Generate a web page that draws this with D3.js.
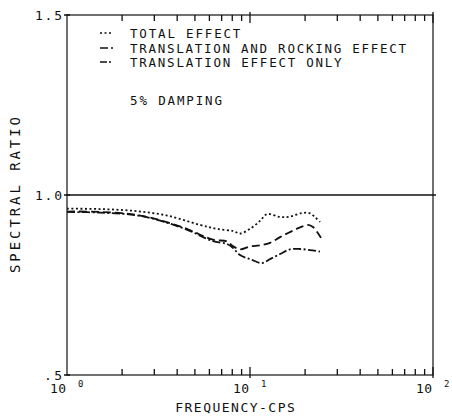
<!DOCTYPE html>
<html>
<head>
<meta charset="utf-8">
<script src="https://cdn.jsdelivr.net/npm/d3@7"></script>
<style>
  html, body { margin: 0; padding: 0; background: #fff; }
  svg { display: block; }
  text { font-family: "DejaVu Sans Mono", "Liberation Mono", monospace; fill: #111; }
</style>
</head>
<body>
<svg id="chart" width="452" height="419"></svg>
<script>
// Spectral ratio vs. frequency (log axis), three response cases at 5% damping.
const totalFreq   = [1.00, 1.51, 2.30, 3.52, 5.33, 6.60, 8.07, 8.82, 10.0, 11.34, 12.39, 14.59, 16.54, 19.24, 21.28, 22.95, 24.13];
const totalRatio  = [0.962, 0.961, 0.956, 0.943, 0.917, 0.906, 0.900, 0.893, 0.906, 0.928, 0.947, 0.939, 0.940, 0.950, 0.949, 0.936, 0.925];

const rockFreq    = [1.00, 1.51, 2.51, 4.30, 6.28, 7.49, 8.07, 8.82, 10.0, 11.34, 12.86, 14.59, 16.54, 18.76, 20.75, 22.10, 23.53, 24.43];
const rockRatio   = [0.954, 0.953, 0.943, 0.910, 0.876, 0.871, 0.858, 0.849, 0.857, 0.860, 0.867, 0.883, 0.897, 0.910, 0.917, 0.911, 0.894, 0.881];

const transFreq   = [1.00, 1.51, 2.51, 4.30, 6.28, 7.49, 8.07, 8.82, 10.0, 11.63, 12.86, 14.59, 16.54, 18.76, 21.28, 24.13];
const transRatio  = [0.953, 0.951, 0.942, 0.908, 0.872, 0.864, 0.853, 0.833, 0.822, 0.811, 0.822, 0.836, 0.849, 0.850, 0.847, 0.843];

const legendLabels = ["TOTAL EFFECT", "TRANSLATION AND ROCKING EFFECT", "TRANSLATION EFFECT ONLY"];
const noteLabel = "5% DAMPING";
const yTickValues = [0.5, 1.0, 1.5];
const yTickLabels = [".5", "1.0", "1.5"];
const xDecades = [0, 1, 2];
const xTitle = "FREQUENCY-CPS";
const yTitle = "SPECTRAL RATIO";
const refLine = 1.0;

const svg = d3.select("#chart");
const plotLeft = 67, plotRight = 433, plotTop = 15, plotBottom = 375;

const x = d3.scaleLog().domain([1, 100]).range([plotLeft, plotRight]);
const y = d3.scaleLinear().domain([0.5, 1.5]).range([plotBottom, plotTop]);

const ink = "#111";
const charW = 9.2; // plotter character pitch

// frame
svg.append("rect")
  .attr("x", plotLeft).attr("y", plotTop)
  .attr("width", plotRight - plotLeft).attr("height", plotBottom - plotTop)
  .attr("fill", "none").attr("stroke", ink).attr("stroke-width", 1.2);

// log ticks on top and bottom edges, pointing into the plot (one path for all)
const tickVals = [];
for (let d = 0; d < 2; d++) {
  for (let m = 2; m <= 10; m++) tickVals.push(m * Math.pow(10, d));
}
const isMajor = v => Math.abs(Math.log10(v) - Math.round(Math.log10(v))) < 1e-9;

const tickPath = d3.path();
tickVals.forEach(v => {
  const px = x(v);
  tickPath.moveTo(px, isMajor(v) ? plotBottom + 3 : plotBottom);
  tickPath.lineTo(px, plotBottom - (isMajor(v) ? 8 : 6));
  tickPath.moveTo(px, isMajor(v) ? plotTop - 3 : plotTop);
  tickPath.lineTo(px, plotTop + (isMajor(v) ? 8 : 6));
});
yTickValues.forEach(v => {
  tickPath.moveTo(plotLeft - 3, y(v));
  tickPath.lineTo(plotLeft + 3, y(v));
});
svg.append("path")
  .attr("d", tickPath.toString())
  .attr("fill", "none")
  .attr("stroke", ink)
  .attr("stroke-width", 1.3);

// y tick labels
svg.append("g").selectAll("text")
  .data(yTickValues)
  .join("text")
  .attr("x", plotLeft - 5)
  .attr("y", d => y(d) + 4.5)
  .attr("text-anchor", "end")
  .attr("font-size", 13)
  .attr("textLength", (d, i) => yTickLabels[i].length * 9)
  .attr("lengthAdjust", "spacing")
  .text((d, i) => yTickLabels[i]);

// x decade labels: "10" with raised exponent
const xl = svg.append("g");
xDecades.forEach(e => {
  const px = x(Math.pow(10, e));
  xl.append("text")
    .attr("x", px - 1).attr("y", 393)
    .attr("text-anchor", "end")
    .attr("font-size", 13)
    .attr("textLength", 16).attr("lengthAdjust", "spacing")
    .text("10");
  xl.append("text")
    .attr("x", px + 11).attr("y", 387)
    .attr("font-size", 9)
    .text(String(e));
});

// axis titles
svg.append("text")
  .attr("x", 235).attr("y", 412)
  .attr("text-anchor", "middle")
  .attr("font-size", 13)
  .attr("textLength", xTitle.length * charW).attr("lengthAdjust", "spacing")
  .text(xTitle);

svg.append("text")
  .attr("transform", "translate(20,195) rotate(-90)")
  .attr("text-anchor", "middle")
  .attr("font-size", 14)
  .attr("textLength", 156).attr("lengthAdjust", "spacing")
  .text(yTitle);

// reference line at ratio 1.0
svg.append("line")
  .attr("x1", plotLeft).attr("x2", plotRight + 3)
  .attr("y1", y(refLine)).attr("y2", y(refLine))
  .attr("stroke", ink).attr("stroke-width", 1.6);

// curves
const series = [
  { f: totalFreq, r: totalRatio, dash: "2,2.5" },
  { f: rockFreq,  r: rockRatio,  dash: "8,4" },
  { f: transFreq, r: transRatio, dash: "8,2.5,2,2.5" }
];

const line = d3.line()
  .x(d => x(d[0]))
  .y(d => y(d[1]))
  .curve(d3.curveCatmullRom.alpha(0.5));

series.forEach(s => {
  svg.append("path")
    .datum(s.f.map((v, i) => [v, s.r[i]]))
    .attr("d", line)
    .attr("fill", "none")
    .attr("stroke", ink)
    .attr("stroke-width", 1.8)
    .attr("stroke-dasharray", s.dash);
});

// legend
const legendY = [33, 48, 62];
series.forEach((s, i) => {
  svg.append("line")
    .attr("x1", 100).attr("x2", 113)
    .attr("y1", legendY[i]).attr("y2", legendY[i])
    .attr("stroke", ink).attr("stroke-width", 1.5)
    .attr("stroke-dasharray", i === 0 ? "2,2.5" : (i === 1 ? "8,3" : "7,2,2,2"));
  svg.append("text")
    .attr("x", 130).attr("y", legendY[i] + 4.5)
    .attr("font-size", 12.5)
    .attr("textLength", legendLabels[i].length * charW).attr("lengthAdjust", "spacing")
    .text(legendLabels[i]);
});

svg.append("text")
  .attr("x", 130).attr("y", 104.5)
  .attr("font-size", 12.5)
  .attr("textLength", noteLabel.length * charW).attr("lengthAdjust", "spacing")
  .text(noteLabel);
</script>
</body>
</html>
